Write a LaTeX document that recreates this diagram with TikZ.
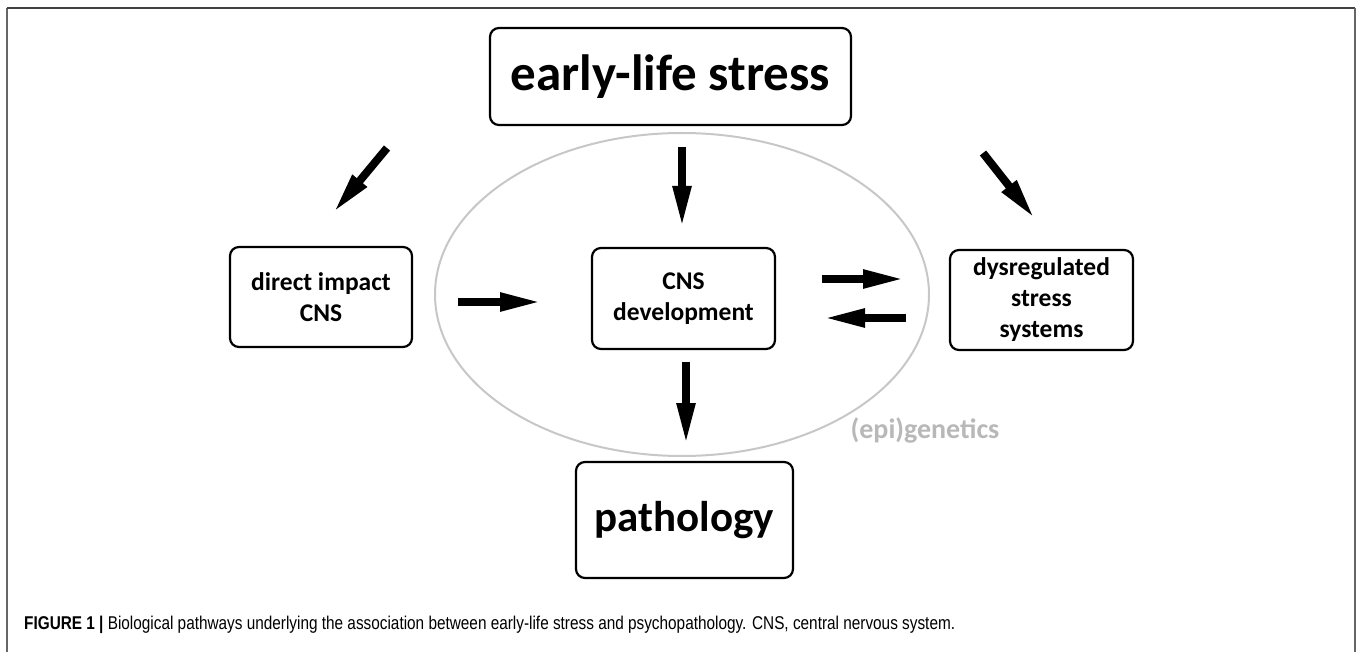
\documentclass[tikz,border=0pt]{standalone}
\usepackage{fontspec}
\usepackage{graphicx}
\setmainfont{Carlito}
\newfontfamily\capfont{Liberation Sans}
\usetikzlibrary{arrows.meta,shapes.geometric}
\begin{document}
\begin{tikzpicture}[x=1pt,y=-1pt,
  box/.style={draw, line width=2.2pt, rounded corners=9pt, align=center,
    font=\bfseries\fontsize{25.5}{31}\selectfont, inner sep=0pt},
  bigbox/.style={box, font=\bfseries\fontsize{51}{56}\selectfont},
  blk/.style={line width=8pt, -{Triangle[length=42pt,width=17pt]}},
  frame/.style={line width=2pt, color=black!60},
]
\useasboundingbox (0,0) rectangle (1357,652);
% frame
\coordinate (f1) at (7,652);
\coordinate (f2) at (7,8);
\coordinate (f3) at (1355,8);
\coordinate (f4) at (1355,652);
\draw[frame] (f1) -- (f2);
\draw[frame, color=black!75] (f2) -- (f3);
\draw[frame] (f3) -- (f4);

% ellipse
\node[draw=black!22, line width=2pt, ellipse, minimum width=494pt, minimum height=323pt, inner sep=0pt] (ell) at (682,294.5) {};

% boxes
\node[bigbox, minimum width=361pt, minimum height=97pt] (els) at (670.5,76.5) {early-life stress};
\node[box, minimum width=182pt, minimum height=100pt] (dir) at (321,297) {direct impact\\CNS};
\node[box, minimum width=183pt, minimum height=101pt] (cns) at (683.5,298.5) {CNS\\development};
\node[box, minimum width=183pt, minimum height=100pt] (dys) at (1041.5,300) {dysregulated\\stress\\systems};
\node[box, font=\bfseries\fontsize{43}{50}\selectfont, minimum width=217pt, minimum height=116pt] (path) at (684.5,520) {pathology};

\node[font=\bfseries\fontsize{28}{32}\selectfont, text=black!28, inner sep=0pt] (epi) at (925,430) {(epi)genetics};

% arrows
\coordinate (a1s) at (387,148); \coordinate (a1e) at (333,213);
\coordinate (a2s) at (682,147); \coordinate (a2e) at (682,228);
\coordinate (a3s) at (983,153); \coordinate (a3e) at (1035,219);
\coordinate (a4s) at (458,302); \coordinate (a4e) at (542,302);
\coordinate (a5s) at (822,279); \coordinate (a5e) at (905,279);
\coordinate (a6s) at (906,318); \coordinate (a6e) at (823,318);
\coordinate (a7s) at (686,362); \coordinate (a7e) at (686,445);
\draw[blk] (a1s) -- (a1e);
\draw[blk] (a2s) -- (a2e);
\draw[blk] (a3s) -- (a3e);
\draw[blk] (a4s) -- (a4e);
\draw[blk] (a5s) -- (a5e);
\draw[blk] (a6s) -- (a6e);
\draw[blk] (a7s) -- (a7e);

% caption
\node[anchor=base west, inner sep=0pt] (cap) at (24,629)
  {\resizebox{931pt}{\height}{\capfont\fontsize{18.5}{22}\selectfont\textbf{FIGURE 1 |} Biological pathways underlying the association between early-life stress and psychopathology. CNS, central nervous system.}};
\end{tikzpicture}
\end{document}
